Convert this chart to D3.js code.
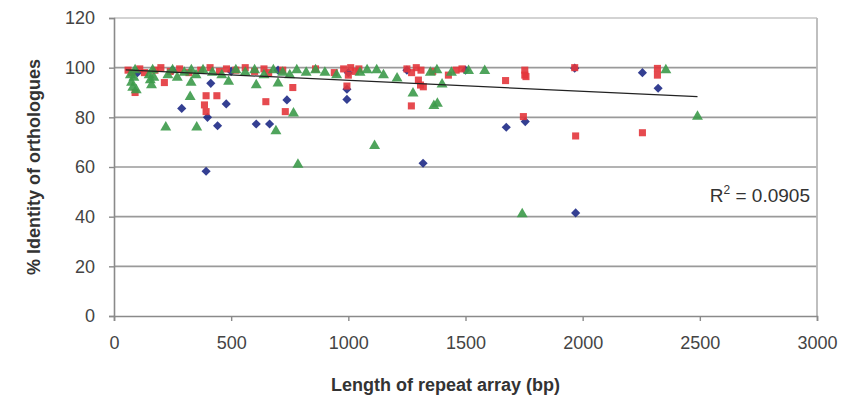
<!DOCTYPE html>
<html>
<head>
<meta charset="utf-8">
<script src="https://cdn.jsdelivr.net/npm/d3@7"></script>
<style>
body { margin: 0; background: #fff; }
text { font-family: "Liberation Sans", Arial, sans-serif; }
</style>
</head>
<body>
<svg id="chart" width="846" height="406"></svg>
<script>
// series values: [length (bp), % identity]
var blueSeries = [
	[393, 58.3], [413, 93.7], [399, 80], [442, 76.6], [289, 83.6], [479, 85.4],
	[607, 77.3], [664, 77.3], [738, 87], [994, 87.2], [994, 91.3], [1319, 61.5],
	[1674, 76], [1755, 78.3], [1970, 41.5], [2255, 98], [2322, 91.7], [1966, 99.8],
	[100, 98], [250, 99], [500, 98.5], [700, 99], [1000, 98], [1250, 99], [1500, 99]
];
var redSeries = [
	[393, 88.7], [439, 88.7], [386, 85], [393, 82.3], [648, 86.3], [763, 92],
	[215, 94], [90, 90], [731, 82.3], [1269, 84.6], [1671, 94.8], [1753, 97],
	[1753, 99], [1747, 80.3], [1970, 72.5], [2319, 99.7], [2319, 97], [2255, 73.8],
	[1308, 93], [1320, 92.3], [1299, 95], [1427, 97], [994, 92.6], [1966, 100], [1758, 96.4],
	[60, 99], [75, 98], [110, 99.5], [130, 98], [175, 99], [200, 100], [240, 98.5],
	[280, 99.5], [320, 98], [370, 99], [410, 100], [450, 98.5], [480, 99.5], [520, 99],
	[560, 100], [600, 98.5], [640, 99.5], [660, 98], [720, 99], [860, 99.5], [940, 98],
	[980, 99.5], [1000, 97], [1010, 100], [1030, 98.5], [1045, 99.5], [1250, 99.5],
	[1270, 98], [1290, 100], [1310, 99], [1360, 98.5], [1460, 99], [1485, 99.5]
];
var greenSeries = [
	[785, 61], [221, 76], [353, 76], [325, 88.3], [329, 94], [607, 93], [700, 93.7],
	[691, 74.5], [489, 94.4], [1112, 68.5], [1276, 89.7], [1365, 84.6], [1380, 85.5],
	[1582, 98.7], [1208, 95.7], [1400, 93.3], [2355, 99], [2490, 80.3], [1742, 41],
	[766, 81.6], [1121, 99], [1378, 99], [1513, 98.7],
	[70, 97], [75, 94], [80, 92], [85, 96], [95, 91], [90, 99], [150, 97], [155, 95],
	[160, 93], [165, 99], [170, 96], [230, 97], [250, 99], [270, 96], [300, 98],
	[330, 99], [350, 97], [380, 99], [420, 98], [460, 97], [520, 99], [560, 98],
	[600, 99], [640, 97], [680, 99], [720, 98], [750, 97], [780, 99], [820, 98],
	[860, 99], [900, 98], [950, 97], [1050, 98], [1080, 99], [1150, 97], [1350, 98],
	[1440, 98]
];
// linear trendline (from Excel): y = a + b*x over the data range
var trendA = 99.3, trendB = -0.0044, trendX = [50, 2490];
var rSquared = "0.0905";
var xTicks = [0, 500, 1000, 1500, 2000, 2500, 3000];
var yTicks = [0, 20, 40, 60, 80, 100, 120];

var svg = d3.select("#chart");
var margin = {top: 18, right: 29, bottom: 90, left: 114};
var width = +svg.attr("width") - margin.left - margin.right;
var height = +svg.attr("height") - margin.top - margin.bottom;

var xScale = d3.scaleLinear().domain([0, 3000]).range([0, width]);
var yScale = d3.scaleLinear().domain([0, 120]).range([height, 0]);

var g = svg.append("g").attr("transform", "translate(" + margin.left + "," + margin.top + ")");

// gridlines (the 120 line doubles as the plot area's top border)
g.selectAll(".grid")
	.data(yTicks.filter(function(d) { return d > 0; }))
	.enter().append("line")
	.attr("x1", 0).attr("x2", width)
	.attr("y1", function(d) { return yScale(d); })
	.attr("y2", function(d) { return yScale(d); })
	.attr("stroke", function(d) { return d == 120 ? "#c4c4c4" : "#9a9a9a"; })
	.attr("stroke-width", 1.6);

// right border of plot area
g.append("line")
	.attr("x1", width).attr("x2", width)
	.attr("y1", 0).attr("y2", height)
	.attr("stroke", "#b8b8b8").attr("stroke-width", 1.8);

// axes
var xAxis = g.append("g")
	.attr("transform", "translate(0," + height + ")")
	.call(d3.axisBottom(xScale).tickValues(xTicks).tickSize(5).tickPadding(15).tickFormat(d3.format("d")));
var yAxis = g.append("g")
	.call(d3.axisLeft(yScale).tickValues(yTicks).tickSize(5).tickPadding(14));

[xAxis, yAxis].forEach(function(a) {
	a.select(".domain").attr("stroke", "#8a8a8a").attr("stroke-width", 1.6);
	a.selectAll(".tick line").attr("stroke", "#8a8a8a").attr("stroke-width", 1.4);
	a.selectAll(".tick text")
		.attr("fill", "#444")
		.style("font-size", "18px")
		.style("font-family", "Liberation Sans, Arial, sans-serif");
});

// points
var sym = d3.symbol();
function drawSeries(data, type, size, color, rotate) {
	g.append("g").selectAll("path")
		.data(data)
		.enter().append("path")
		.attr("d", sym.type(type).size(size)())
		.attr("transform", function(d) {
			return "translate(" + xScale(d[0]) + "," + yScale(d[1]) + ")" + (rotate ? " rotate(45)" : "");
		})
		.attr("fill", color)
		.attr("fill-opacity", 0.9);
}
drawSeries(blueSeries, d3.symbolSquare, 42, "#1e2a86", true);
drawSeries(redSeries, d3.symbolSquare, 50, "#e3363c", false);
drawSeries(greenSeries, d3.symbolTriangle, 52, "#3c9a4a", false);

// trendline
g.append("line")
	.attr("x1", xScale(trendX[0])).attr("y1", yScale(trendA + trendB * trendX[0]))
	.attr("x2", xScale(trendX[1])).attr("y2", yScale(trendA + trendB * trendX[1]))
	.attr("stroke", "#222").attr("stroke-width", 1.3);

// R squared label
var r2 = svg.append("text")
	.attr("x", 810).attr("y", 202)
	.attr("text-anchor", "end")
	.attr("fill", "#333")
	.style("font-size", "19px");
r2.append("tspan").text("R");
r2.append("tspan").attr("dy", -8).style("font-size", "12px").text("2");
r2.append("tspan").attr("dy", 8).text(" = " + rSquared);

// axis titles
svg.append("text")
	.attr("x", margin.left + width / 2 - 20).attr("y", 391)
	.attr("text-anchor", "middle")
	.attr("fill", "#333")
	.style("font-size", "18px").style("font-weight", "bold")
	.text("Length of repeat array (bp)");

svg.append("text")
	.attr("transform", "translate(40," + 167 + ") rotate(-90)")
	.attr("text-anchor", "middle")
	.attr("fill", "#333")
	.style("font-size", "18px").style("font-weight", "bold")
	.text("% Identity of orthologues");
</script>
</body>
</html>
